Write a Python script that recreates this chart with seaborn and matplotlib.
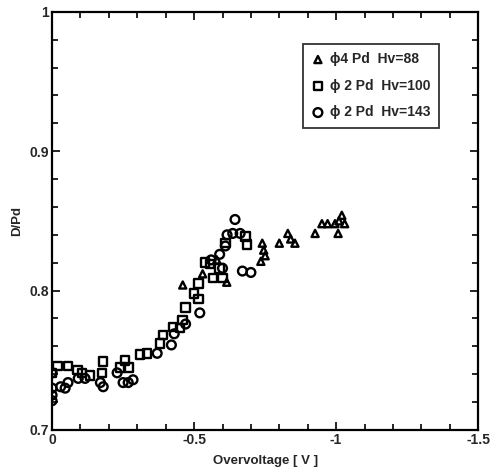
import matplotlib
matplotlib.use("Agg")
import matplotlib.pyplot as plt
from matplotlib.ticker import MultipleLocator, FixedLocator
import seaborn as sns
import pandas as pd

# phi4 Pd, Hv=88 (triangles)
tri_x = [-0.46, -0.53, -0.58, -0.615, -0.74, -0.745, -0.75, -0.735, -0.80, -0.83,
         -0.84, -0.855, -0.926, -0.95, -0.97, -0.996, -1.02, -1.01, -1.03, -1.007]
tri_y = [0.804, 0.812, 0.822, 0.806, 0.834, 0.829, 0.825, 0.821, 0.834, 0.841,
         0.837, 0.834, 0.841, 0.848, 0.848, 0.848, 0.854, 0.850, 0.848, 0.841]

# phi2 Pd, Hv=100 (squares)
sq_x = [0.0, -0.02, -0.056, -0.09, -0.105, -0.134, -0.18, -0.176, -0.24, -0.257,
        -0.27, -0.31, -0.334, -0.38, -0.39, -0.426, -0.45, -0.46, -0.47, -0.50,
        -0.515, -0.515, -0.539, -0.556, -0.567, -0.59, -0.60, -0.61, -0.687, -0.68]
sq_y = [0.741, 0.746, 0.746, 0.743, 0.741, 0.739, 0.749, 0.741, 0.745, 0.750,
        0.745, 0.754, 0.755, 0.762, 0.768, 0.774, 0.773, 0.779, 0.788, 0.798,
        0.794, 0.805, 0.820, 0.819, 0.809, 0.816, 0.809, 0.834, 0.833, 0.839]

# phi2 Pd, Hv=143 (circles)
ci_x = [0.0, 0.0, 0.0, 0.0, -0.03, -0.046, -0.056, -0.092, -0.116, -0.17,
        -0.18, -0.229, -0.25, -0.268, -0.285, -0.37, -0.42, -0.43, -0.47, -0.52,
        -0.56, -0.59, -0.60, -0.61, -0.616, -0.636, -0.662, -0.644, -0.67, -0.70]
ci_y = [0.741, 0.730, 0.725, 0.721, 0.731, 0.730, 0.734, 0.737, 0.737, 0.734,
        0.731, 0.741, 0.734, 0.734, 0.736, 0.755, 0.761, 0.769, 0.776, 0.784,
        0.822, 0.826, 0.816, 0.832, 0.840, 0.841, 0.841, 0.851, 0.814, 0.813]

labels = ["\u03d54 Pd  Hv=88", "\u03d5 2 Pd  Hv=100", "\u03d5 2 Pd  Hv=143"]

df = pd.concat([
    pd.DataFrame({"V": tri_x, "D": tri_y, "sample": labels[0]}),
    pd.DataFrame({"V": sq_x, "D": sq_y, "sample": labels[1]}),
    pd.DataFrame({"V": ci_x, "D": ci_y, "sample": labels[2]}),
])

sns.set_style("ticks")
plt.rcParams["font.family"] = ["Liberation Sans", "DejaVu Sans"]
plt.rcParams["font.weight"] = "bold"

fig = plt.figure(figsize=(4.96, 4.73), dpi=100)
ax = fig.add_axes([0.105, 0.091, 0.859, 0.884])

markers = {labels[0]: "^", labels[1]: "s", labels[2]: "o"}
sizes = {labels[0]: 26, labels[1]: 38, labels[2]: 40}
for lab in labels:
    sub = df[df["sample"] == lab]
    sns.scatterplot(data=sub, x="V", y="D", marker=markers[lab], s=sizes[lab],
                    facecolor="none", edgecolor="black", linewidth=1.7,
                    label=lab, ax=ax)

ax.set_xlim(0, -1.5)
ax.set_ylim(0.7, 1.0)
ax.xaxis.set_major_locator(FixedLocator([0, -0.5, -1, -1.5]))
ax.xaxis.set_minor_locator(MultipleLocator(0.1))
ax.set_xticklabels(["0", "-0.5", "-1", "-1.5"])
ax.yaxis.set_major_locator(FixedLocator([0.7, 0.8, 0.9, 1.0]))
ax.yaxis.set_minor_locator(MultipleLocator(0.02))
ax.set_yticklabels(["0.7", "0.8", "0.9", "1"])
ax.tick_params(which="both", direction="in", top=True, right=True,
               labelsize=10, width=1.2, color="black")
ax.tick_params(which="major", length=6, pad=2)
ax.tick_params(which="minor", length=4)
for sp in ax.spines.values():
    sp.set_linewidth(1.6)
    sp.set_color("black")

ax.set_xlabel("Overvoltage [ V ]", fontsize=9.5, fontweight="bold", labelpad=6)
ax.set_ylabel("D/Pd", fontsize=9.5, fontweight="bold", labelpad=5)

leg = ax.legend(loc="upper right", bbox_to_anchor=(0.925, 0.94), frameon=True,
                fancybox=False, fontsize=10, handletextpad=0.4,
                labelspacing=0.9, borderpad=0.6, handlelength=1.0)
leg.get_frame().set_edgecolor("black")
leg.get_frame().set_linewidth(1.3)
for t in leg.get_texts():
    t.set_fontweight("bold")

fig.savefig("out.png", dpi=100)
